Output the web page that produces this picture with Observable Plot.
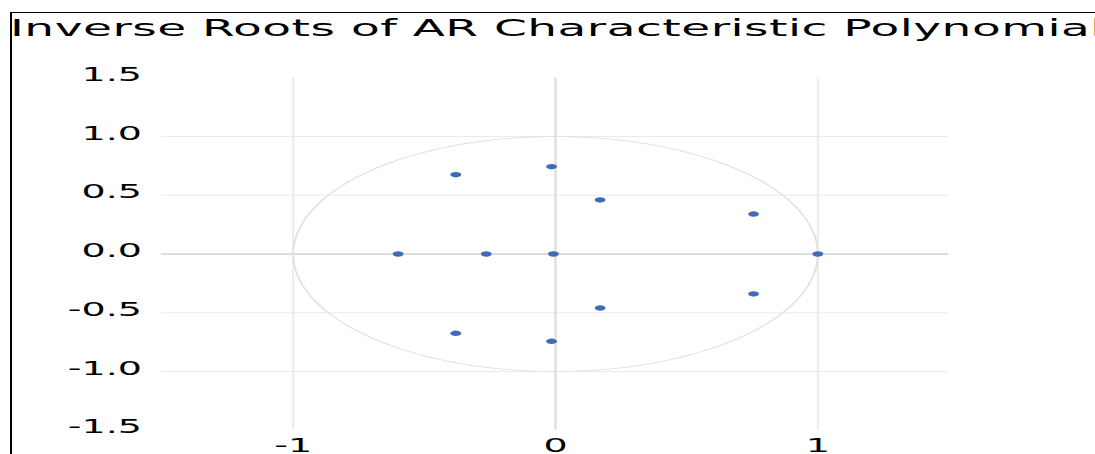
<!DOCTYPE html>
<html>
<head>
<meta charset="utf-8">
<script src="https://cdn.jsdelivr.net/npm/d3@7"></script>
<script src="https://cdn.jsdelivr.net/npm/@observablehq/plot@0.6"></script>
<style>
  html, body { margin: 0; padding: 0; background: #fff; overflow: hidden; }
  #stage { position: relative; width: 547.5px; height: 454px; transform: scaleX(2); transform-origin: 0 0; }
  #frame { position: absolute; left: 4.5px; top: 11.5px; width: 2000px; height: 2000px;
           border-top: 1.5px solid #000; border-left: 1.5px solid #000; }
  #title { position: absolute; left: 5px; top: 16.5px; font-family: "DejaVu Sans"; font-size: 23.5px;
           letter-spacing: 0.25px; line-height: 1; white-space: nowrap; color: #000; }
  #chart { position: absolute; left: 0; top: 0; }
</style>
</head>
<body>
<div id="stage">
  <div id="frame"></div>
  <div id="title">Inverse Roots of AR Characteristic Polynomial</div>
  <div id="chart"></div>
</div>
<script>
const rootRe = [-0.38, -0.015, 0.17, 0.755, -0.60, -0.264, -0.008, 1.0, 0.755, 0.17, -0.38, -0.015];
const rootIm = [0.675, 0.743, 0.46, 0.34, 0, 0, 0, 0, -0.34, -0.46, -0.675, -0.743];

const xTicks = [-1, 0, 1];
const yTicks = [-1.5, -1.0, -0.5, 0.0, 0.5, 1.0, 1.5];
const yGrid = [-1.0, -0.5, 0.5, 1.0];
const xGrid = [-1, 1];

const roots = rootRe.map((re, i) => ({re, im: rootIm[i]}));

// Unit circle (geometric reference, not data)
const unitCircle = d3.range(0, 361, 2).map(a => ({
  re: Math.cos(a * Math.PI / 180), im: Math.sin(a * Math.PI / 180)
}));

const chart = Plot.plot({
  width: 547.5,
  height: 454,
  marginLeft: 80.5,
  marginRight: 73.5,
  marginTop: 77.25,
  marginBottom: 24.25,
  style: {fontFamily: "DejaVu Sans", fontSize: "19px", color: "#000", background: "transparent", overflow: "visible"},
  x: {domain: [-1.5, 1.5], label: null},
  y: {domain: [-1.5, 1.5], label: null},
  marks: [
    Plot.ruleY(yGrid, {stroke: "#ebebeb", strokeWidth: 1}),
    Plot.ruleX(xGrid, {stroke: "#ebebeb", strokeWidth: 1}),
    Plot.ruleY([0], {stroke: "#d2d2d2", strokeWidth: 1.3}),
    Plot.ruleX([0], {stroke: "#dcdcdc", strokeWidth: 1.1}),
    Plot.line(unitCircle, {x: "re", y: "im", stroke: "#e2e2e2", strokeWidth: 1, curve: "linear"}),
    Plot.dot(roots, {x: "re", y: "im", r: 2.7, fill: "#3e6db7", stroke: "none"}),
    Plot.axisX({ticks: xTicks, tickSize: 0, tickPadding: 8, tickFormat: d => String(d), fontSize: 19, label: null}),
    Plot.axisY({ticks: yTicks, tickSize: 0, tickPadding: 10, dy: -3, tickFormat: d => d.toFixed(1), fontSize: 19, label: null})
  ]
});
document.getElementById("chart").appendChild(chart);
</script>
</body>
</html>
